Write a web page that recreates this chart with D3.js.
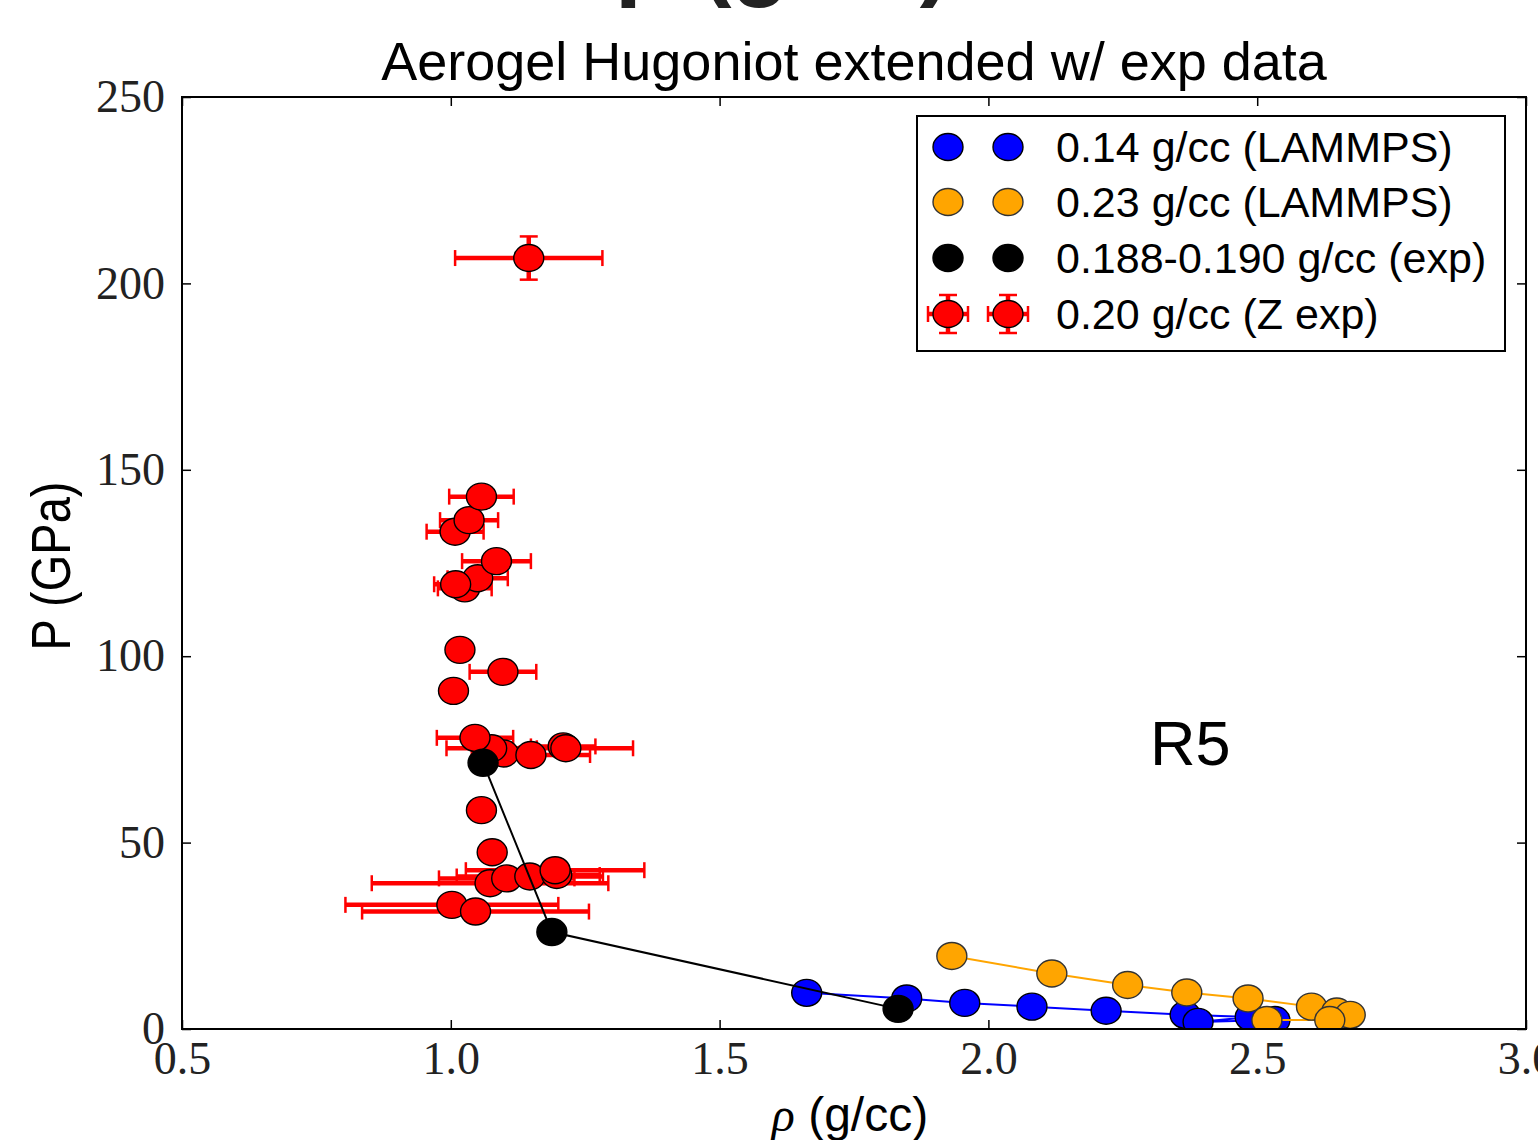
<!DOCTYPE html>
<html>
<head>
<meta charset="utf-8">
<script src="https://cdn.jsdelivr.net/npm/d3@7"></script>
<style>
  html, body { margin: 0; padding: 0; background: #fff; overflow: hidden; }
  svg { display: block; }
</style>
</head>
<body>
<svg id="chart" width="1538" height="1140"></svg>
<script>
// ---------------- data ----------------
const xTicks = [0.5, 1.0, 1.5, 2.0, 2.5, 3.0];
const yTicks = [0, 50, 100, 150, 200, 250];

// 0.14 g/cc (LAMMPS)
const blueRho = [1.662, 1.848, 1.956, 2.081, 2.219, 2.366, 2.487, 2.390, 2.533];
const blueP   = [9.7, 8.2, 7.0, 6.0, 4.9, 3.8, 3.2, 1.9, 2.4];

// 0.23 g/cc (LAMMPS)
const orangeRho = [1.932, 2.118, 2.259, 2.369, 2.483, 2.601, 2.648, 2.673, 2.635, 2.518];
const orangeP   = [19.6, 14.9, 11.8, 9.8, 8.2, 6.0, 4.7, 3.8, 2.4, 2.4];

// 0.188-0.190 g/cc (exp)
const blackRho = [1.060, 1.188, 1.832];
const blackP   = [71.4, 26.0, 5.4];

// 0.20 g/cc (Z exp)
const redRho  = [1.145, 1.008, 1.034, 1.057, 1.026, 1.050, 1.009, 1.085, 1.017, 1.097, 1.005,
                 1.098, 1.076, 1.045, 1.149, 1.209, 1.214, 1.057, 1.077,
                 1.073, 1.104, 1.147, 1.197, 1.194, 1.002, 1.046];
const redP    = [206.8, 133.4, 136.5, 142.8, 118.2, 120.9, 119.3, 125.5, 101.7, 95.8, 90.7,
                 73.9, 75.3, 78.1, 73.5, 75.8, 75.3, 58.7, 47.4,
                 39.1, 40.4, 40.9, 41.3, 42.6, 33.3, 31.5];
const redXerr = [0.137, 0.053, 0.054, 0.060, 0.050, 0.056, 0.040, 0.064, 0.015, 0.062, 0.015,
                 0.030, 0.084, 0.071, 0.110, 0.060, 0.125, 0.015, 0.015,
                 0.220, 0.126, 0.136, 0.080, 0.166, 0.198, 0.211];
const redYerr = [5.8, 2.5, 2.5, 2.5, 2.5, 2.5, 2.5, 2.5, 2.5, 2.5, 2.5,
                 2.5, 2.5, 2.5, 2.5, 2.5, 2.5, 2.5, 2.5,
                 2.5, 2.5, 2.5, 2.5, 2.5, 2.5, 2.5];

const legendLabels = ["0.14 g/cc (LAMMPS)", "0.23 g/cc (LAMMPS)", "0.188-0.190 g/cc (exp)", "0.20 g/cc (Z exp)"];
const legendColors = ["#0000ff", "#ffa500", "#000000", "#ff0000"];

// ---------------- layout ----------------
const L = 182, R = 1526, T = 97, B = 1029;
const svg = d3.select("#chart");
const x = d3.scaleLinear().domain([0.5, 3.0]).range([L, R]);
const y = d3.scaleLinear().domain([0, 250]).range([B, T]);

const RX = 15, RY = 13.5;
const sansFont = "'Liberation Sans', Arial, Helvetica, sans-serif";
const serifFont = "'Liberation Serif', 'Times New Roman', serif";

// cut-off text at the very top
svg.append("text")
  .attr("x", 616).attr("y", -12)
  .attr("font-family", sansFont).attr("font-weight", "bold")
  .attr("font-size", 94).attr("fill", "#222")
  .text("ρ (g/cc)");

// title
svg.append("text")
  .attr("x", (L + R) / 2).attr("y", 80)
  .attr("text-anchor", "middle")
  .attr("font-family", sansFont).attr("font-size", 54)
  .text("Aerogel Hugoniot extended w/ exp data");

// axes
const tickLen = 9;
function styleAxis(g) {
  g.select(".domain").remove();
  g.selectAll(".tick line").attr("stroke", "#000").attr("stroke-width", 1.5);
  g.selectAll(".tick text").attr("font-family", serifFont).attr("font-size", 46).attr("fill", "#222");
}
svg.append("g").attr("transform", `translate(0,${B})`)
  .call(d3.axisBottom(x).tickValues(xTicks).tickFormat(d3.format(".1f"))
        .tickSizeInner(-tickLen).tickSizeOuter(0).tickPadding(12))
  .call(styleAxis);
svg.append("g").attr("transform", `translate(0,${T})`)
  .call(d3.axisTop(x).tickValues(xTicks).tickFormat("")
        .tickSizeInner(-tickLen).tickSizeOuter(0))
  .call(styleAxis);
svg.append("g").attr("transform", `translate(${L},0)`)
  .call(d3.axisLeft(y).tickValues(yTicks).tickFormat(d3.format("d"))
        .tickSizeInner(-tickLen).tickSizeOuter(0).tickPadding(17))
  .call(styleAxis);
svg.append("g").attr("transform", `translate(${R},0)`)
  .call(d3.axisRight(y).tickValues(yTicks).tickFormat("")
        .tickSizeInner(-tickLen).tickSizeOuter(0))
  .call(styleAxis);

// axis labels
svg.append("text")
  .attr("transform", `translate(70,566) rotate(-90) scale(1,1.2)`)
  .attr("text-anchor", "middle")
  .attr("font-family", sansFont).attr("font-size", 47)
  .text("P (GPa)");

const xl = svg.append("text")
  .attr("x", 850).attr("y", 1131)
  .attr("text-anchor", "middle")
  .attr("font-family", sansFont).attr("font-size", 48);
xl.append("tspan").attr("font-family", serifFont).attr("font-style", "italic").text("ρ");
xl.append("tspan").text(" (g/cc)");

// R5 annotation
svg.append("text")
  .attr("x", 1150).attr("y", 765)
  .attr("font-family", sansFont).attr("font-size", 63)
  .text("R5");

// clip for data
svg.append("clipPath").attr("id", "plotclip")
  .append("rect").attr("x", L).attr("y", T).attr("width", R - L).attr("height", B - T);
const plot = svg.append("g").attr("clip-path", "url(#plotclip)");

function series(rho, p) { return rho.map((r, i) => ({ r: r, p: p[i] })); }
const line = d3.line().x(d => x(d.r)).y(d => y(d.p));

function drawMarkers(g, data, fill, stroke) {
  g.selectAll(null).data(data).enter().append("ellipse")
    .attr("cx", d => x(d.r)).attr("cy", d => y(d.p))
    .attr("rx", RX).attr("ry", RY)
    .attr("fill", fill).attr("stroke", stroke).attr("stroke-width", 1.4);
}

// blue
const blueData = series(blueRho, blueP);
plot.append("path").datum(blueData).attr("d", line)
  .attr("fill", "none").attr("stroke", "#0000ff").attr("stroke-width", 2);
drawMarkers(plot.append("g"), blueData, "#0000ff", "#000");

// orange
const orangeData = series(orangeRho, orangeP);
plot.append("path").datum(orangeData).attr("d", line)
  .attr("fill", "none").attr("stroke", "#ffa500").attr("stroke-width", 2);
drawMarkers(plot.append("g"), orangeData, "#ffa500", "#333");

// red with error bars
const redData = redRho.map((r, i) => ({ r: r, p: redP[i], xe: redXerr[i], ye: redYerr[i] }));
const eb = plot.append("g").attr("stroke", "#ff0000");
redData.forEach(d => {
  const cx = x(d.r), cy = y(d.p);
  const x0 = x(d.r - d.xe), x1 = x(d.r + d.xe);
  const y0 = y(d.p - d.ye), y1 = y(d.p + d.ye);
  eb.append("line").attr("x1", x0).attr("x2", x1).attr("y1", cy).attr("y2", cy).attr("stroke-width", 4.5);
  eb.append("line").attr("x1", cx).attr("x2", cx).attr("y1", y0).attr("y2", y1).attr("stroke-width", 4.5);
  [x0, x1].forEach(xx => eb.append("line").attr("x1", xx).attr("x2", xx)
    .attr("y1", cy - 8).attr("y2", cy + 8).attr("stroke-width", 2.5));
  [y0, y1].forEach(yy => eb.append("line").attr("x1", cx - 9).attr("x2", cx + 9)
    .attr("y1", yy).attr("y2", yy).attr("stroke-width", 2.5));
});
drawMarkers(plot.append("g"), redData, "#ff0000", "#000");

// black
const blackData = series(blackRho, blackP);
plot.append("path").datum(blackData).attr("d", line)
  .attr("fill", "none").attr("stroke", "#000").attr("stroke-width", 2);
drawMarkers(plot.append("g"), blackData, "#000", "#000");

// frame
svg.append("rect").attr("x", L).attr("y", T).attr("width", R - L).attr("height", B - T)
  .attr("fill", "none").attr("stroke", "#000").attr("stroke-width", 2);

// legend
const lg = svg.append("g");
lg.append("rect").attr("x", 917).attr("y", 116).attr("width", 588).attr("height", 235)
  .attr("fill", "#fff").attr("stroke", "#000").attr("stroke-width", 2);
const legY = [147, 202, 258, 314];
const legMX = [948, 1008];
legendLabels.forEach((lab, i) => {
  const cy = legY[i];
  legMX.forEach(mx => {
    if (i === 3) {
      const e = lg.append("g").attr("stroke", "#ff0000");
      e.append("line").attr("x1", mx - 20).attr("x2", mx + 20).attr("y1", cy).attr("y2", cy).attr("stroke-width", 4.5);
      e.append("line").attr("x1", mx).attr("x2", mx).attr("y1", cy - 19).attr("y2", cy + 19).attr("stroke-width", 4.5);
      [-20, 20].forEach(o => e.append("line").attr("x1", mx + o).attr("x2", mx + o)
        .attr("y1", cy - 8).attr("y2", cy + 8).attr("stroke-width", 2.5));
      [-19, 19].forEach(o => e.append("line").attr("x1", mx - 9).attr("x2", mx + 9)
        .attr("y1", cy + o).attr("y2", cy + o).attr("stroke-width", 2.5));
    }
    lg.append("ellipse").attr("cx", mx).attr("cy", cy).attr("rx", RX).attr("ry", RY)
      .attr("fill", legendColors[i])
      .attr("stroke", i === 1 ? "#333" : "#000").attr("stroke-width", 1.4);
  });
  lg.append("text").attr("x", 1056).attr("y", cy + 15)
    .attr("font-family", sansFont).attr("font-size", 43)
    .text(lab);
});
</script>
</body>
</html>
